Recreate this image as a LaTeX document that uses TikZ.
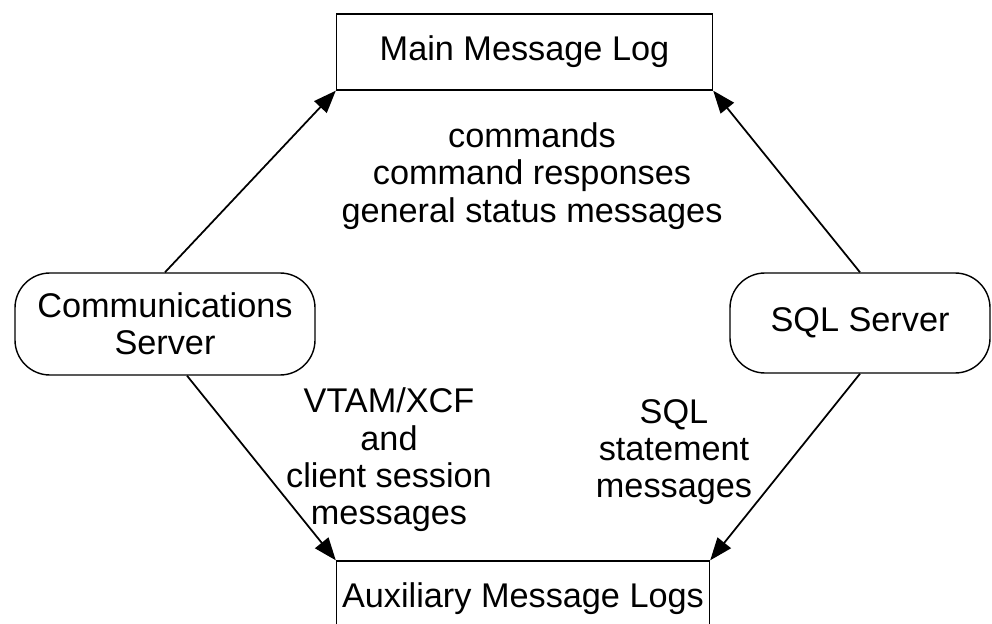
\documentclass[tikz,border=0pt]{standalone}
\usepackage{fontspec}
\setmainfont{Liberation Sans}
\usetikzlibrary{arrows.meta}

\begin{document}
\begin{tikzpicture}[font=\fontsize{19.5}{21.2}\selectfont,
  logbox/.style={draw,line width=0.8pt,inner sep=0pt,minimum width=7.52cm,minimum height=1.52cm},
  server/.style={draw,line width=0.8pt,rounded corners=0.7cm,inner sep=0pt,align=center},
  flow/.style={-{Triangle[length=0.45cm,width=0.34cm]},line width=1pt}]
\useasboundingbox (0,0) rectangle (19.84,-12.48);

\node[logbox] (main) at (10.49,-1.04) {Main Message Log};
\node[logbox,minimum width=7.46cm] (aux) at (10.46,-11.98) {Auxiliary Message Logs};
\node[server,minimum width=6cm,minimum height=2.04cm] (comm) at (3.3,-6.48) {Communications\\Server};
\node[server,minimum width=5.2cm,minimum height=2cm] (sql) at (17.2,-6.46) {SQL Server};

\draw[flow] (comm.north) -- (main.south west);
\draw[flow] ([xshift=0.44cm]comm.south) -- (aux.north west);
\draw[flow] (sql.north) -- (main.south east);
\draw[flow] (sql.south) -- (aux.north east);

\node[align=center] (cmdtext) at (10.64,-3.52) {commands\\command responses\\general status messages};
\node[align=center] (vtamtext) at (7.78,-9.2) {VTAM/XCF\\and\\client session\\messages};
\node[align=center] (sqltext) at (13.48,-9.04) {SQL\\statement\\messages};
\end{tikzpicture}
\end{document}
